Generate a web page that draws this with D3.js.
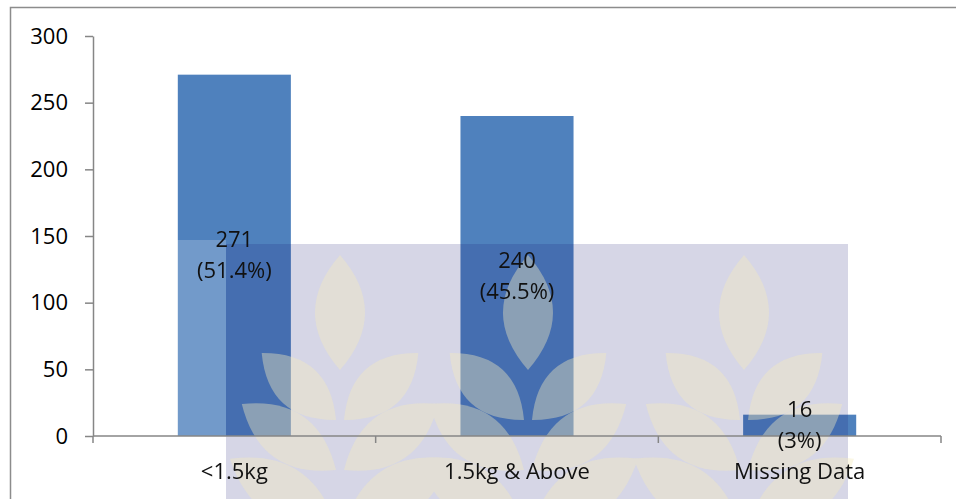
<!DOCTYPE html>
<html lang="en">
<head>
  <meta charset="UTF-8">
  <title>Birth weight</title>
  <style>
    body { margin: 0; background: #fff; }
    text { font-family: "Open Sans", sans-serif; }
  </style>
</head>
<body>
  <script src="https://cdn.jsdelivr.net/npm/d3@7/dist/d3.min.js"></script>
  <script>
    var categories = ["<1.5kg", "1.5kg & Above", "Missing Data"];
    var counts = [271, 240, 16];
    var percents = ["51.4%", "45.5%", "3%"];
    var yTicks = [0, 50, 100, 150, 200, 250, 300];

    var width = 956, height = 499;

    var svg = d3.select("body").append("svg")
      .attr("width", width)
      .attr("height", height);

    // outer frame (only top and left visible)
    svg.append("path")
      .attr("d", "M10.5,499 V7.5 H956")
      .attr("fill", "none")
      .attr("stroke", "#8c8c8c")
      .attr("stroke-width", 1.5);

    var x = d3.scaleBand()
      .domain(categories)
      .range([93, 941])
      .paddingInner(0.6)
      .paddingOuter(0.3);

    var y = d3.scaleLinear()
      .domain([0, 300])
      .range([436, 36]);

    // bars
    svg.selectAll("rect.bar")
      .data(counts)
      .enter()
      .append("rect")
      .attr("class", "bar")
      .attr("x", function (d, i) { return x(categories[i]); })
      .attr("width", x.bandwidth())
      .attr("y", function (d) { return y(d); })
      .attr("height", function (d) { return y(0) - y(d); })
      .attr("fill", "#4f81bd");

    // watermark stamp (faint) over the bars
    var wm = svg.append("g");
    wm.append("rect")
      .attr("x", 145).attr("y", 240).attr("width", 81).attr("height", 259)
      .attr("fill", "#ffffff").attr("opacity", 0.2);
    wm.append("rect")
      .attr("x", 226).attr("y", 244).attr("width", 622).attr("height", 255)
      .attr("fill", "#1b1b74").attr("opacity", 0.18);

    var leaves = wm.append("g").attr("opacity", 0.4);
    function leaf(cx, cy, len, wid, ang) {
      var p = d3.path();
      p.moveTo(0, 0);
      p.quadraticCurveTo(wid, -len * 0.5, 0, -len);
      p.quadraticCurveTo(-wid, -len * 0.5, 0, 0);
      leaves.append("path")
        .attr("d", p.toString())
        .attr("transform", "translate(" + cx + "," + cy + ") rotate(" + ang + ")")
        .attr("fill", "#f4ebbd");
    }
    [340, 528, 744].forEach(function (px) {
      leaf(px, 370, 115, 50, 0);
      leaf(px - 4, 420, 100, 46, -48);
      leaf(px + 4, 420, 100, 46, 48);
      leaf(px - 4, 470, 115, 50, -55);
      leaf(px + 4, 470, 115, 50, 55);
      leaf(px - 4, 525, 125, 52, -58);
      leaf(px + 4, 525, 125, 52, 58);
    });

    // y axis
    var yAxis = svg.append("g")
      .attr("transform", "translate(93,0)")
      .call(d3.axisLeft(y).tickValues(yTicks).tickSize(8).tickSizeOuter(0).tickPadding(17));
    yAxis.select(".domain").attr("stroke", "#868686").attr("stroke-width", 1.5);
    yAxis.selectAll(".tick line").attr("stroke", "#868686").attr("stroke-width", 1.5);
    yAxis.selectAll(".tick text")
      .attr("font-size", 22)
      .attr("font-family", "Open Sans")
      .attr("fill", "#000");

    // x axis line with ticks between categories
    svg.append("line")
      .attr("x1", 93).attr("x2", 941)
      .attr("y1", y(0)).attr("y2", y(0))
      .attr("stroke", "#868686").attr("stroke-width", 1.5);

    var step = x.step();
    var bounds = [0, 1, 2, 3].map(function (k) { return x(categories[0]) - x.paddingOuter() * step + k * step; });
    svg.selectAll("line.xtick")
      .data(bounds)
      .enter()
      .append("line")
      .attr("class", "xtick")
      .attr("x1", function (d) { return d; })
      .attr("x2", function (d) { return d; })
      .attr("y1", y(0))
      .attr("y2", y(0) + 7)
      .attr("stroke", "#868686").attr("stroke-width", 1.5);

    svg.selectAll("text.cat")
      .data(categories)
      .enter()
      .append("text")
      .attr("class", "cat")
      .attr("x", function (d) { return x(d) + x.bandwidth() / 2; })
      .attr("y", 479)
      .attr("text-anchor", "middle")
      .attr("font-size", 22)
      .attr("fill", "#111")
      .text(function (d) { return d; });

    // data labels, centred in each bar
    var labels = svg.selectAll("text.lbl")
      .data(counts)
      .enter()
      .append("text")
      .attr("class", "lbl")
      .attr("text-anchor", "middle")
      .attr("font-size", 22)
      .attr("fill", "#111")
      .attr("x", function (d, i) { return x(categories[i]) + x.bandwidth() / 2; })
      .attr("y", function (d) { return (y(d) + y(0)) / 2; });
    labels.append("tspan")
      .attr("x", function (d, i) { return x(categories[i]) + x.bandwidth() / 2; })
      .attr("dy", -8)
      .text(function (d) { return d; });
    labels.append("tspan")
      .attr("x", function (d, i) { return x(categories[i]) + x.bandwidth() / 2; })
      .attr("dy", 31)
      .text(function (d, i) { return "(" + percents[i] + ")"; });
  </script>
</body>
</html>
